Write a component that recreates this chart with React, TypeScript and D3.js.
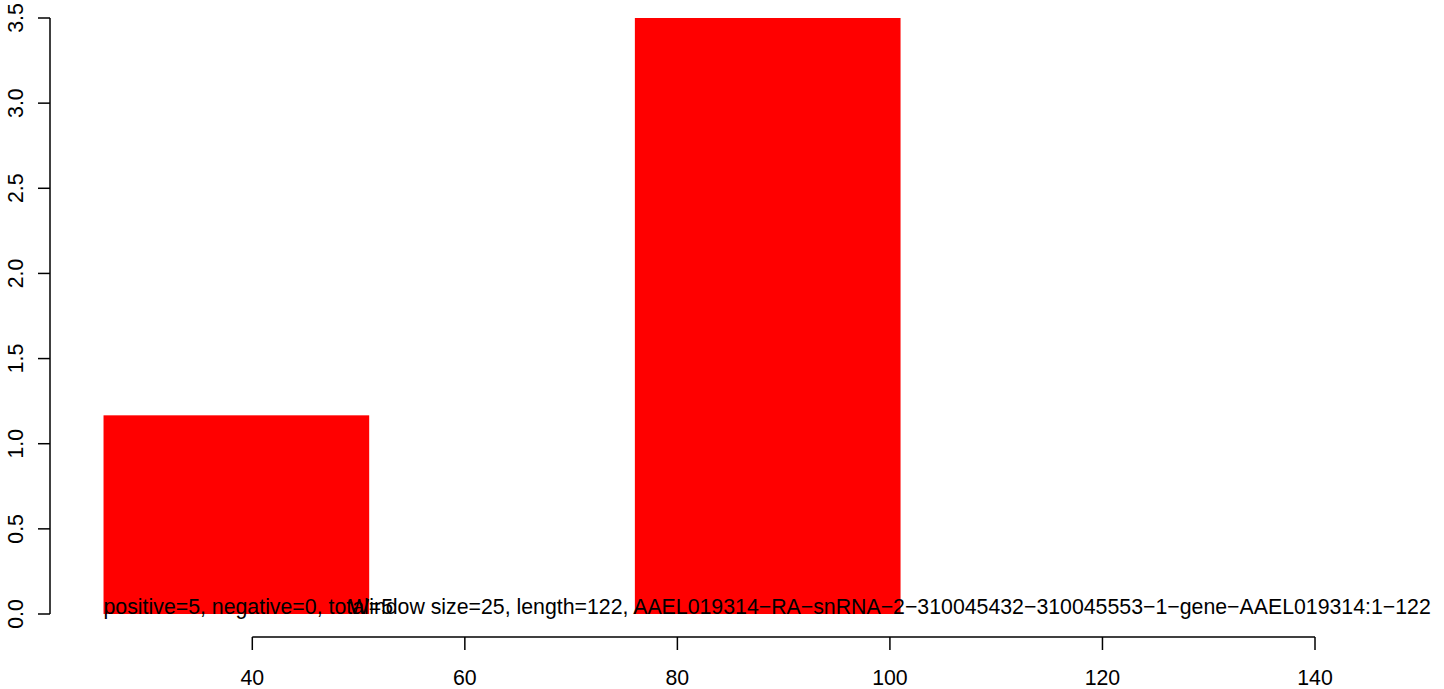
import React from "react";
import * as d3 from "d3";

const binStarts = [26, 76];
const binEnds = [51, 101];
const binValues = [1.1667, 3.5];
const xTicks = [40, 60, 80, 100, 120, 140];
const yTicks = [0, 0.5, 1.0, 1.5, 2.0, 2.5, 3.0, 3.5];
const countLabel = "positive=5, negative=0, total=5";
const titleLabel =
  "Window size=25, length=122, AAEL019314\u2212RA\u2212snRNA\u22122\u2212310045432\u2212310045553\u22121\u2212gene\u2212AAEL019314:1\u2212122";
const titleCenterX = 100;

export default function App() {
  const W = 1444;
  const H = 689;
  const x = d3.scaleLinear().domain([40, 140]).range([252.3, 1315]);
  const y = d3.scaleLinear().domain([0, 3.5]).range([614, 18]);
  const font = "Liberation Sans, Arial, Helvetica, sans-serif";
  const fs = 21.3;
  const axisY = 637;
  const axisX = 50;
  return (
    <svg
      width={W}
      height={H}
      style={{ position: "absolute", left: 0, top: 0, background: "#fff" }}
      fontFamily={font}
    >
      {binValues.map((v, i) => (
        <rect
          key={i}
          x={x(binStarts[i])}
          y={y(v)}
          width={x(binEnds[i]) - x(binStarts[i])}
          height={y(0) - y(v)}
          fill="#ff0000"
        />
      ))}
      <line x1={x(xTicks[0])} x2={x(xTicks[xTicks.length - 1])} y1={axisY} y2={axisY} stroke="#000" strokeWidth={1.5} />
      {xTicks.map((t) => (
        <g key={t}>
          <line x1={x(t)} x2={x(t)} y1={axisY} y2={axisY + 13} stroke="#000" strokeWidth={1.5} />
          <text x={x(t)} y={685} textAnchor="middle" fontSize={fs} fill="#000">
            {t}
          </text>
        </g>
      ))}
      <line x1={axisX} x2={axisX} y1={y(yTicks[0])} y2={y(yTicks[yTicks.length - 1])} stroke="#000" strokeWidth={1.5} />
      {yTicks.map((t) => (
        <g key={t}>
          <line x1={axisX - 12} x2={axisX} y1={y(t)} y2={y(t)} stroke="#000" strokeWidth={1.5} />
          <text
            transform={`translate(22.5,${y(t)}) rotate(-90)`}
            textAnchor="middle"
            fontSize={fs}
            fill="#000"
          >
            {t.toFixed(1)}
          </text>
        </g>
      ))}
      <text x={x(binStarts[0])} y={y(0)} fontSize={fs} fill="#000">
        {countLabel}
      </text>
      <text x={x(titleCenterX)} y={y(0)} textAnchor="middle" fontSize={fs} fill="#000">
        {titleLabel}
      </text>
    </svg>
  );
}
